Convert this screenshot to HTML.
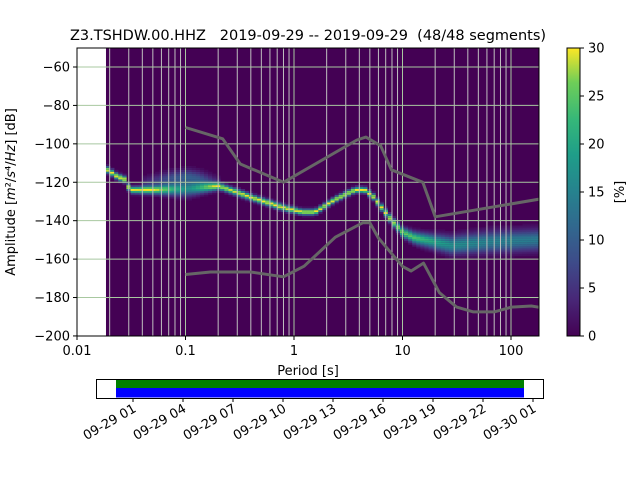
<!DOCTYPE html>
<html><head><meta charset="utf-8"><style>
body{margin:0;background:#fff;width:640px;height:480px;overflow:hidden}
svg{font-family:"DejaVu Sans","Liberation Sans",sans-serif}
</style></head><body>
<svg id="c" width="640" height="480" xmlns="http://www.w3.org/2000/svg">
<defs><linearGradient id="vg" x1="0" y1="1" x2="0" y2="0">
<stop offset="0" stop-color="#440154"/><stop offset="0.13" stop-color="#482878"/><stop offset="0.25" stop-color="#3e4a89"/><stop offset="0.38" stop-color="#31688e"/><stop offset="0.5" stop-color="#26828e"/><stop offset="0.63" stop-color="#1f9e89"/><stop offset="0.75" stop-color="#35b779"/><stop offset="0.88" stop-color="#6ece58"/><stop offset="1" stop-color="#fde725"/></linearGradient>
<clipPath id="clip"><rect x="77" y="48" width="462" height="288"/></clipPath></defs>
<text x="308" y="40" font-size="14.5" text-anchor="middle" style="white-space:pre" xml:space="preserve">Z3.TSHDW.00.HHZ   2019-09-29 -- 2019-09-29  (48/48 segments)</text>
<g id="main" clip-path="url(#clip)"></g>
<rect x="77" y="48" width="462" height="288" fill="none" stroke="#000" stroke-width="1"/>
<g id="axes"></g>
<text transform="translate(15,192) rotate(-90)" font-size="13" text-anchor="middle">Amplitude [<tspan font-style="italic">m</tspan>²/<tspan font-style="italic">s</tspan>⁴/<tspan font-style="italic">Hz</tspan>] [dB]</text>
<text x="308" y="375" font-size="13" text-anchor="middle">Period [s]</text>
<rect x="567" y="48" width="13" height="288" fill="url(#vg)" stroke="#000" stroke-width="1"/>
<g id="cbar"></g>
<text transform="translate(624,192) rotate(-90)" font-size="13" text-anchor="middle">[%]</text>
<rect x="96.5" y="379.5" width="447" height="19" fill="#fff" stroke="#000"/>
<rect x="116" y="380" width="408" height="8" fill="#008000"/>
<rect x="116" y="388" width="408" height="9.5" fill="#0000ff"/>
<g id="time"></g>
</svg>
<script>
// mode curve (period s, dB)
const modeP=[0.0185,0.0224,0.0277,0.0289,0.051,0.1,0.195,0.393,0.74,1.13,1.5,2.28,3.5,4.3,5.2,6.4,7.8,9.6,12.5,19,27,63,182];
const modeDB=[-113.6,-117,-119,-124,-124,-123.5,-122,-128,-133,-135.5,-135.5,-129,-124,-124,-127.7,-134.5,-140.7,-146,-149,-151,-152.7,-151,-150];
const modeSpread=[1.1,1.1,1.1,1.1,1.4,2.5,1.2,1.1,1.1,1.0,1.0,1.0,1.0,1.0,1.1,1.2,1.4,1.6,2,2.5,3,3.5,3.5];
const modeAmp=[30,30,30,30,28,16,28,30,30,30,30,30,30,30,30,30,28,26,24,20,17,15,14];
// secondary branch
const secP=[0.04,0.07,0.1,0.13,0.2];
const secDB=[-121,-118,-117,-118,-121];
const secW=[0.3,0.6,0.7,0.6,0.2];
// noise models
const nhnmP=[0.1,0.22,0.32,0.8,3.8,4.6,6.3,7.9,15.4,20,354];
const nhnmDB=[-91.5,-97.4,-110.5,-120,-98,-96.5,-101,-113.5,-120,-138,-126];
const nlnmP=[0.1,0.17,0.4,0.8,1.24,2.4,4.3,5,6,10,12,15.6,21.9,31.6,45,70,101,154,328];
const nlnmDB=[-168,-166.7,-166.7,-169.2,-163.7,-148.6,-141.1,-141.1,-149,-163.8,-166.2,-162.1,-177.5,-185,-187.5,-187.5,-185,-184.4,-187.5];
const yTicks=[-60,-80,-100,-120,-140,-160,-180,-200];
const xTicks=[0.01,0.1,1,10,100];
const xTickLabels=["0.01","0.1","1","10","100"];
const cbTicks=[0,5,10,15,20,25,30];
const timeLabels=["09-29 01","09-29 04","09-29 07","09-29 10","09-29 13","09-29 16","09-29 19","09-29 22","09-30 01"];
const timeHours=[1,4,7,10,13,16,19,22,25];

const NS="http://www.w3.org/2000/svg";
const X=p=>77+108.5*(Math.log10(p)+2);
const Y=d=>67+(-60-d)*1.921;
const TX=h=>133+(h-1)*50/3;
function el(tag,attrs,parent){const e=document.createElementNS(NS,tag);for(const k in attrs)e.setAttribute(k,attrs[k]);parent.appendChild(e);return e;}
function interp(P,V,p){const l=Math.log10(p);if(l<=Math.log10(P[0]))return V[0];for(let i=1;i<P.length;i++){const a=Math.log10(P[i-1]),b=Math.log10(P[i]);if(l<=b){const t=(l-a)/(b-a);return V[i-1]+t*(V[i]-V[i-1]);}}return V[V.length-1];}
const vir=[[68,1,84],[72,40,120],[62,74,137],[49,104,142],[38,130,142],[31,158,137],[53,183,121],[110,206,88],[253,231,37]];
function viridis(t){t=Math.max(0,Math.min(1,t))*8;const i=Math.min(7,Math.floor(t)),f=t-i;const a=vir[i],b=vir[i+1];return `rgb(${a.map((v,k)=>Math.round(v+f*(b[k]-v))).join(",")})`;}

const main=document.getElementById('main');
const bg=el('rect',{x:X(0.0185),y:48,width:539-X(0.0185),height:288,fill:'#440154'},main);


const cells=el('g',{},main);


const f=Math.pow(2,1/8);
for(let p=0.0185;p<182;p*=f){
  const m=interp(modeP,modeDB,p);
  const sp=interp(modeP,modeSpread,p);
  const amp=interp(modeP,modeAmp,p);
  let sw=0,sd=-999;
  if(p>=secP[0]&&p<=secP[secP.length-1]){sw=interp(secP,secW,p);sd=interp(secP,secDB,p);}
  const x0=X(p),x1=X(p*f);
  for(let d=Math.round(m)-30;d<=Math.round(m)+30;d++){
    let v=amp*Math.exp(-0.5*Math.pow((d-m)/sp,2));
    if(sw>0)v+=14*sw*Math.exp(-0.5*Math.pow((d-sd)/2.5,2));
    if(v<0.8)continue;
    const c=el('rect',{x:x0,y:Y(d+0.5),width:x1-x0+0.3,height:1.95,fill:viridis(v/30)},cells);
    
    
  }
}
// grid
const grid=el('g',{stroke:'#b8b8b8','stroke-width':1},main);


for(let e=-2;e<=2;e++)for(let k=1;k<=9;k++){const p=k*Math.pow(10,e);const x=X(p);if(x<77||x>539)continue;
  const g=el('line',{x1:x,x2:x,y1:48,y2:336,stroke:k==1?'#a8c8a0':'#c0c0c0'},grid);
  
  }
yTicks.forEach(t=>{const g=el('line',{x1:77,x2:539,y1:Y(t),y2:Y(t),stroke:'#a8c8a0'},grid);
  
  });
// noise models
function line(P,D,name){const pts=P.map((p,i)=>X(p).toFixed(1)+","+Y(D[i]).toFixed(1)).join(" ");
  const l=el('polyline',{points:pts,fill:'none',stroke:'#666','stroke-width':3,'stroke-linejoin':'round'},main);
  
  }
line(nhnmP,nhnmDB,'nhnm-line');line(nlnmP,nlnmDB,'nlnm-line');
// axes ticks
const ax=document.getElementById('axes');
yTicks.forEach(t=>{const y=Y(t);el('line',{x1:73,x2:77,y1:y,y2:y,stroke:'#000'},ax);
  const tx=el('text',{x:70,y:y+4.5,'font-size':13,'text-anchor':'end'},ax);tx.textContent=String(t).replace('-','−');
  
  });
xTicks.forEach((t,i)=>{const x=X(t);el('line',{x1:x,x2:x,y1:336,y2:340,stroke:'#000'},ax);
  const tx=el('text',{x:x,y:355,'font-size':13,'text-anchor':'middle'},ax);tx.textContent=xTickLabels[i];
  
  });
const cb=document.getElementById('cbar');
cbTicks.forEach(t=>{const y=336-t*9.6;el('line',{x1:580,x2:584,y1:y,y2:y,stroke:'#000'},cb);
  const tx=el('text',{x:588,y:y+4.5,'font-size':13},cb);tx.textContent=t;
  
  });
const tm=document.getElementById('time');
timeHours.forEach((h,i)=>{const x=TX(h);el('line',{x1:x,x2:x,y1:398,y2:402,stroke:'#000'},tm);
  const tx=el('text',{transform:`translate(${x+4},${411}) rotate(-30)`,'font-size':13,'text-anchor':'end'},tm);tx.textContent=timeLabels[i];
  
  });
</script>
</body></html>
